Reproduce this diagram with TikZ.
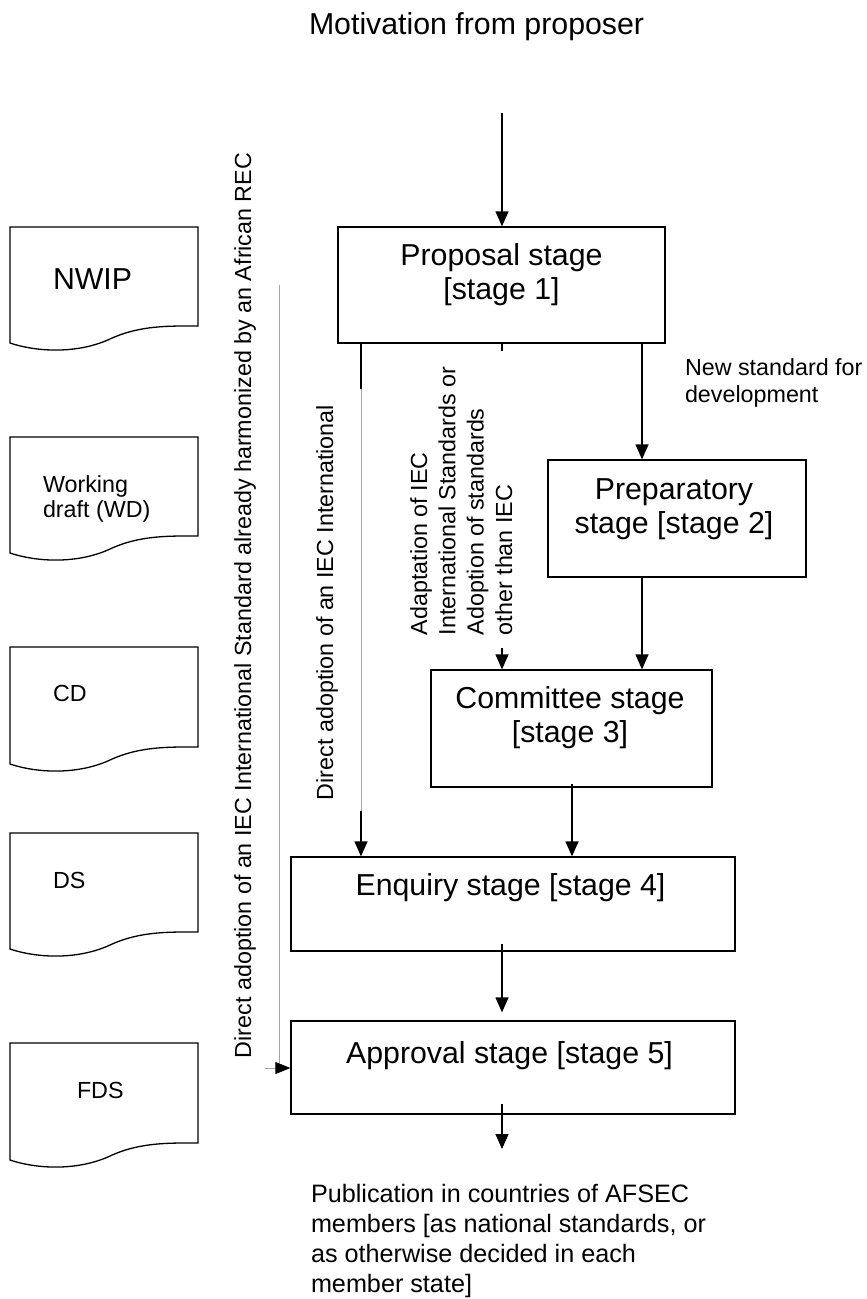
\documentclass[tikz,border=0pt]{standalone}
\usepackage{fontspec}
\setmainfont{Liberation Sans}
\usetikzlibrary{arrows.meta,calc}
\newcommand{\stagefont}{\fontsize{30.3}{34.8}\selectfont}
\newcommand{\smallfont}{\fontsize{23.3}{27}\selectfont}
\newcommand{\wdfont}{\fontsize{23.3}{25.5}\selectfont}
\newcommand{\vfont}{\fontsize{23.3}{28.3}\selectfont}
\newcommand{\pubfont}{\fontsize{25.2}{30}\selectfont}
\newcommand{\docshape}[2]{%
  \draw[doc] (10,#1) -- (198,#1) -- (198,#1+#2-17)
    .. controls (170,#1+#2-17) and (140,#1+#2-18) .. (110,#1+#2-4)
    .. controls (80,#1+#2+10) and (40,#1+#2+10) .. (10,#1+#2) -- cycle;}
\tikzset{
  box/.style={draw, line width=1.3pt, inner sep=0pt},
  lbl/.style={inner sep=0pt, outer sep=0pt},
  conn/.style={line width=1.3pt, -{Triangle[length=15pt,width=13pt]}},
  plain/.style={line width=1.3pt},
  faint/.style={line width=0.8pt, draw=black!35},
  doc/.style={draw, line width=1.3pt},
}
\begin{document}
\begin{tikzpicture}[x=1pt,y=-1pt]
\useasboundingbox (0,0) rectangle (867,1299);

% title
\node[lbl, anchor=base west, font=\stagefont] (motiv) at (309,34) {Motivation from proposer};

% stage boxes
\node[box, minimum width=327pt, minimum height=116pt] (prop) at (501.5,285) {};
\node[box, minimum width=258pt, minimum height=117pt] (prep) at (677,518.5) {};
\node[box, minimum width=281pt, minimum height=117pt] (comm) at (571.5,728.5) {};
\node[box, minimum width=444pt, minimum height=94pt] (enq) at (513,904) {};
\node[box, minimum width=444pt, minimum height=93pt] (appr) at (513,1067.5) {};

% stage texts (base anchor = baseline of the last line)
\node[lbl, anchor=base, align=center, font=\stagefont] (propT) at (501.5,299.8) {Proposal stage\\{[}stage 1]};
\node[lbl, anchor=base, align=center, font=\stagefont] (prepT) at (674,533.8) {Preparatory\\stage {[}stage 2]};
\node[lbl, anchor=base, align=center, font=\stagefont] (commT) at (570,742.8) {Committee stage\\{[}stage 3]};
\node[lbl, anchor=base, font=\stagefont] (enqT) at (510.5,895) {Enquiry stage [stage 4]};
\node[lbl, anchor=base, font=\stagefont] (apprT) at (509.5,1063) {Approval stage [stage 5]};

% document shapes
\docshape{227}{116}
\docshape{437}{116}
\docshape{647}{117}
\docshape{833}{116}
\docshape{1043}{117}
\node[lbl, anchor=base west, font=\stagefont] (nwip) at (53,289) {NWIP};
\node[lbl, anchor=base west, align=left, font=\wdfont] (wd) at (43,517.5) {Working\\draft (WD)};
\node[lbl, anchor=base west, font=\smallfont] (cd) at (53,701) {CD};
\node[lbl, anchor=base west, font=\smallfont] (ds) at (53,888) {DS};
\node[lbl, anchor=base west, font=\smallfont] (fds) at (77,1098) {FDS};

% side labels
\node[lbl, anchor=base west, align=left, font=\smallfont] (newstd) at (685,402) {New standard for\\development};
\node[lbl, rotate=90, anchor=base west, font=\smallfont] (vlong) at (251,1058) {Direct adoption of an IEC International Standard already harmonized by an African REC};
\node[lbl, rotate=90, anchor=base west, font=\smallfont] (vmid) at (333,800) {Direct adoption of an IEC International};
\node[lbl, rotate=90, anchor=base west, align=left, font=\vfont] (vadapt) at (512,635) {Adaptation of IEC\\International Standards or\\Adoption of standards\\other than IEC};
\node[lbl, anchor=base west, align=left, font=\pubfont] (pub) at (311,1292) {Publication in countries of AFSEC\\members [as national standards, or\\as otherwise decided in each\\member state]};

% coordinates
\coordinate (mtop) at (502,113);
\coordinate (xa) at (642,0);
\coordinate (xb) at (502,0);
\coordinate (xd) at (572,0);
\coordinate (d1) at (361,389);
\coordinate (d2) at (361,811);
\coordinate (adEnd) at (502,648);
\coordinate (pubArrow) at (502,1149);
\coordinate (g1) at (279,285);
\coordinate (g2) at (279,1068);
\coordinate (g3) at (265,1068);

% connectors
\draw[conn] (mtop) -- (mtop |- prop.north);
\draw[conn] (prop.south -| xa) -- (prep.north -| xa);
\draw[conn] (prep.south -| xa) -- (comm.north -| xa);
\draw[plain] (prop.south -| xb) -- ++(0,7);
\draw[conn] (adEnd) -- (comm.north -| adEnd);
\draw[plain] (prop.south -| d1) -- (d1);
\draw[faint] (d1) -- (d2);
\draw[conn] (d2) -- (enq.north -| d2);
\draw[conn] ($(comm.south -| xd)+(0,-4)$) -- (enq.north -| xd);
\draw[conn] ($(enq.south -| xb)+(0,-8)$) -- ($(appr.north -| xb)+(0,-8)$);
\draw[conn] ($(appr.south -| xb)+(0,-11)$) -- (pubArrow);
\draw[faint] (g1) -- (g2);
\draw[faint, -{Triangle[length=15pt,width=12pt,color=black]}] (g3) -- (appr.west |- g3);
\end{tikzpicture}
\end{document}
